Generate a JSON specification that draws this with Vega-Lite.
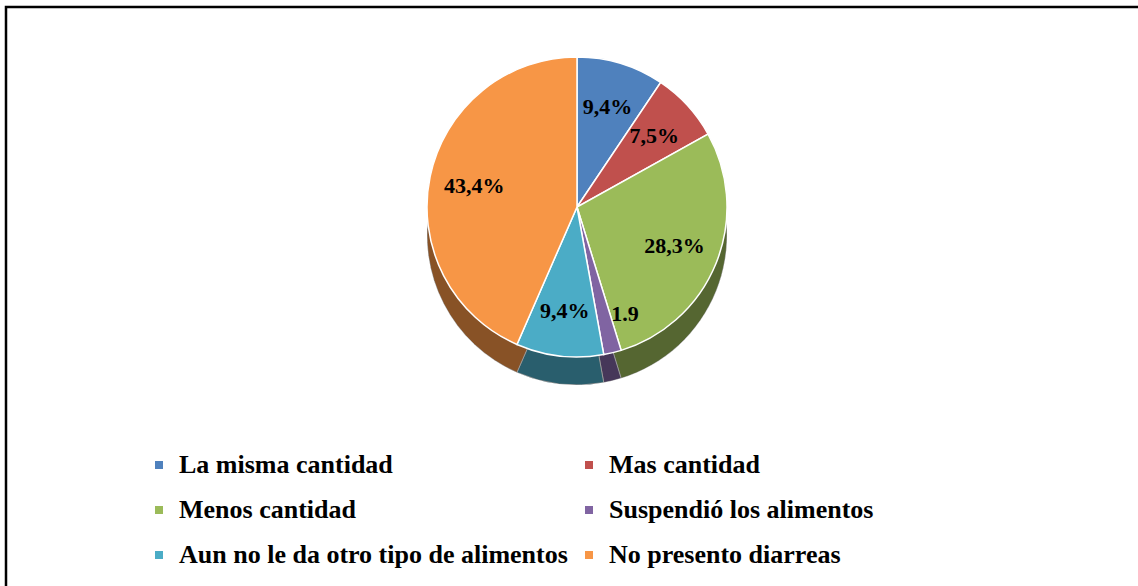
{
  "$schema": "https://vega.github.io/schema/vega-lite/v6.json",
  "width": 1140,
  "height": 600,
  "autosize": {"type": "none"},
  "padding": {"left": 6, "top": 7, "right": 0, "bottom": 0},
  "background": "white",
  "config": {
    "view": {"stroke": "black", "strokeWidth": 2.5},
    "font": "Liberation Serif"
  },
  "data": {
    "values": [
      {"categoria": "La misma cantidad", "valor": 9.4, "etiqueta": "9,4%", "orden": 1},
      {"categoria": "Mas cantidad", "valor": 7.5, "etiqueta": "7,5%", "orden": 2},
      {"categoria": "Menos cantidad", "valor": 28.3, "etiqueta": "28,3%", "orden": 3},
      {"categoria": "Suspendió los alimentos", "valor": 1.9, "etiqueta": "1.9", "orden": 4},
      {"categoria": "Aun no le da otro tipo de alimentos", "valor": 9.4, "etiqueta": "9,4%", "orden": 5},
      {"categoria": "No presento diarreas", "valor": 43.4, "etiqueta": "43,4%", "orden": 6}
    ]
  },
  "encoding": {
    "theta": {"field": "valor", "type": "quantitative", "stack": true},
    "order": {"field": "orden", "type": "quantitative"},
    "color": {
      "field": "categoria",
      "type": "nominal",
      "scale": {
        "domain": ["La misma cantidad", "Mas cantidad", "Menos cantidad", "Suspendió los alimentos", "Aun no le da otro tipo de alimentos", "No presento diarreas"],
        "range": ["#4F81BD", "#C0504D", "#9BBB59", "#8064A2", "#4BACC6", "#F79646"]
      },
      "legend": {
        "orient": "none",
        "direction": "horizontal",
        "legendX": 140,
        "legendY": 445,
        "title": null,
        "columns": 2,
        "symbolType": "square",
        "symbolSize": 64,
        "symbolStrokeWidth": 0,
        "labelFont": "Liberation Serif",
        "labelFontWeight": "bold",
        "labelFontSize": 26,
        "labelColor": "black",
        "labelOffset": 7,
        "labelLimit": 700,
        "rowPadding": 19,
        "columnPadding": 8
      }
    }
  },
  "layer": [
    {
      "mark": {"type": "arc", "outerRadius": 150, "stroke": "white", "strokeWidth": 1},
      "encoding": {"x": {"value": 571}, "y": {"value": 228}}
    },
    {
      "mark": {"type": "arc", "outerRadius": 150, "opacity": 0.45, "strokeWidth": 0},
      "encoding": {"x": {"value": 571}, "y": {"value": 228}, "color": {"value": "black"}, "detail": {"field": "categoria"}}
    },
    {
      "mark": {"type": "arc", "outerRadius": 150, "stroke": "white", "strokeWidth": 1.5},
      "encoding": {"x": {"value": 571}, "y": {"value": 200}}
    },
    {
      "mark": {"type": "text", "radius": 105, "font": "Liberation Serif", "fontWeight": "bold", "fontSize": 22, "fill": "black"},
      "encoding": {
        "x": {"value": 571},
        "y": {"value": 200},
        "text": {"condition": {"test": "datum.orden == 4", "value": ""}, "field": "etiqueta"},
        "color": {"value": "black"},
        "detail": {"field": "categoria"}
      }
    },
    {
      "mark": {"type": "text", "radius": 118, "dx": 20, "dy": -8, "font": "Liberation Serif", "fontWeight": "bold", "fontSize": 22, "fill": "black"},
      "encoding": {
        "x": {"value": 571},
        "y": {"value": 200},
        "text": {"condition": {"test": "datum.orden == 4", "field": "etiqueta"}, "value": ""},
        "color": {"value": "black"},
        "detail": {"field": "categoria"}
      }
    }
  ]
}
